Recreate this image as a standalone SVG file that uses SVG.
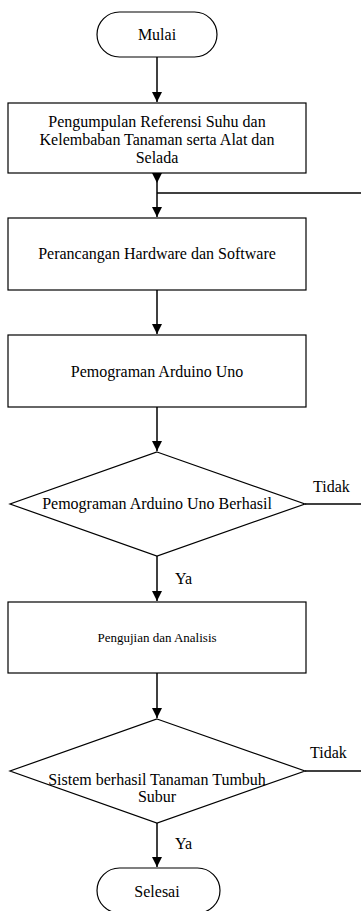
<svg xmlns="http://www.w3.org/2000/svg" width="361" height="911" viewBox="0 0 361 911">
<defs>
<style>
.s{fill:#fff;stroke:#000;stroke-width:1.2}
.l{fill:none;stroke:#000;stroke-width:1.5}
.t{font-family:'Liberation Serif','Times New Roman',Times,serif;font-size:16px;fill:#000;text-anchor:middle}
.lb{font-family:'Liberation Serif','Times New Roman',Times,serif;font-size:16px;fill:#000}
</style>
<marker id="a" viewBox="0 0 10 10" refX="10" refY="5" markerWidth="10" markerHeight="10" markerUnits="userSpaceOnUse" orient="auto"><path d="M0,0L10,5L0,10Z" fill="#000"/></marker>
</defs>
<g id="connectors">
<line class="l" x1="157" y1="57" x2="157" y2="102" marker-end="url(#a)"/>
<line class="l" x1="157" y1="173" x2="157" y2="183" marker-end="url(#a)"/>
<line class="l" x1="157" y1="183" x2="157" y2="217" marker-end="url(#a)"/>
<line class="l" x1="157" y1="193" x2="361" y2="193"/>
<line class="l" x1="157" y1="290" x2="157" y2="334" marker-end="url(#a)"/>
<line class="l" x1="157" y1="407" x2="157" y2="451" marker-end="url(#a)"/>
<line class="l" x1="305" y1="504" x2="361" y2="504"/>
<line class="l" x1="157" y1="556" x2="157" y2="601" marker-end="url(#a)"/>
<line class="l" x1="157" y1="673" x2="157" y2="718" marker-end="url(#a)"/>
<line class="l" x1="305" y1="771" x2="361" y2="771"/>
<line class="l" x1="157" y1="823" x2="157" y2="867" marker-end="url(#a)"/>
<text class="lb" x="313" y="492">Tidak</text>
<text class="lb" x="175" y="584">Ya</text>
<text class="lb" x="310" y="758">Tidak</text>
<text class="lb" x="175" y="849">Ya</text>
</g>
<g id="mulai">
<rect class="s" x="97" y="12" width="120" height="45" rx="22.5"/>
<text class="t" x="157" y="40">Mulai</text>
</g>
<g id="pengumpulan">
<rect class="s" x="8" y="103" width="298" height="70"/>
<text class="t" x="157" y="127">Pengumpulan Referensi Suhu dan</text>
<text class="t" x="157" y="145">Kelembaban Tanaman serta Alat dan</text>
<text class="t" x="157" y="163">Selada</text>
</g>
<g id="perancangan">
<rect class="s" x="8" y="218" width="298" height="72"/>
<text class="t" x="157" y="259">Perancangan Hardware dan Software</text>
</g>
<g id="pemograman">
<rect class="s" x="8" y="335" width="298" height="72"/>
<text class="t" x="157" y="377">Pemograman Arduino Uno</text>
</g>
<g id="cek1">
<polygon class="s" points="157,452 305,504 157,556 10,504"/>
<text class="t" x="157" y="509">Pemograman Arduino Uno Berhasil</text>
</g>
<g id="pengujian">
<rect class="s" x="8" y="602" width="298" height="71"/>
<text class="t" x="157" y="642" style="font-size:13px">Pengujian dan Analisis</text>
</g>
<g id="cek2">
<polygon class="s" points="157,719 305,771 157,823 10,771"/>
<text class="t" x="157" y="785">Sistem berhasil Tanaman Tumbuh</text>
<text class="t" x="157" y="802">Subur</text>
</g>
<g id="selesai">
<rect class="s" x="97" y="868" width="123" height="45" rx="22.5"/>
<text class="t" x="157" y="897">Selesai</text>
</g>
</svg>
